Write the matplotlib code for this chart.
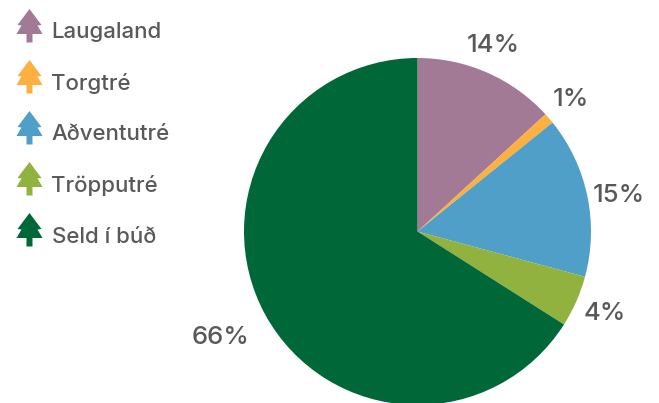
import matplotlib
matplotlib.use('Agg')
import matplotlib.pyplot as plt
from matplotlib.patches import Polygon

plt.rcParams['font.family'] = ['Inter', 'DejaVu Sans']

labels = ['Laugaland', 'Torgtré', 'Aðventutré', 'Tröpputré', 'Seld í búð']
values = [13.2, 1.0, 15.0, 4.8, 66.0]
pct_labels = ['14%', '1%', '15%', '4%', '66%']
colors = ['#A37A96', '#FBB040', '#4F9FC8', '#92B240', '#006838']
text_color = '#58595B'

fig = plt.figure(figsize=(6.59, 4.03), dpi=100)

# kakan, y-asinn snyr ofugt svo hornin snua lika
ax = fig.add_axes([0, 0, 1, 1])
ax.pie(values, colors=colors, startangle=-90, counterclock=True,
       center=(417.5, 231.5), radius=173.5, frame=True)
ax.set_aspect('equal')
ax.set_xlim(0, 659)
ax.set_ylim(403, 0)
ax.axis('off')

pct_pos = [(493, 45), (571, 100), (619, 195), (605, 314), (221, 337)]
for txt, (x, y) in zip(pct_labels, pct_pos):
    ax.text(x, y, txt, fontsize=18.5, fontweight='medium', color=text_color,
            ha='center', va='center')


def tree(x, y, color):
    # jolatre sem merki i skyringum, y er toppurinn
    half = [(12, 16), (8, 16.5), (13, 25), (3, 25), (3, 33.5)]
    right = [(x + dx, y + dy) for dx, dy in half]
    left = [(x - dx, y + dy) for dx, dy in reversed(half)]
    ax.add_patch(Polygon([(x, y)] + right + left, closed=True, color=color, lw=0))


legend_y = [9, 60, 111, 162, 213]
text_y = [32, 83, 134, 186, 237]
for lab, col, y, ty in zip(labels, colors, legend_y, text_y):
    tree(29.5, y, col)
    ax.text(51.5, ty, lab, fontsize=16, fontweight='medium', color=text_color,
            ha='left', va='center')

fig.savefig('out.png', dpi=100)
